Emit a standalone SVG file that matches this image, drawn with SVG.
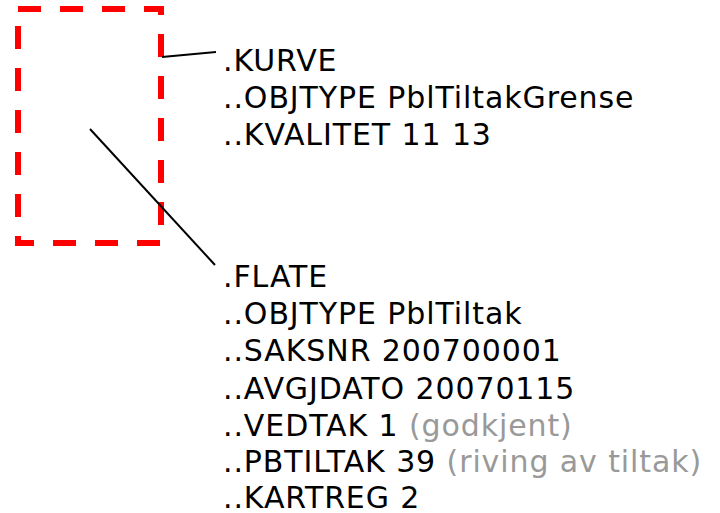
<svg xmlns="http://www.w3.org/2000/svg" width="720" height="513" viewBox="0 0 720 513">
<style>
text{font-family:"DejaVu Sans",Verdana,sans-serif;font-size:30px;letter-spacing:0.9px;fill:#000}
.g{fill:#999}
.c{stroke:#000;stroke-width:2;fill:none}
</style>
<rect width="720" height="513" fill="#fff"/>
<g id="area">
<rect x="18" y="9" width="143" height="234" fill="none" stroke="#ff0000" stroke-width="6" stroke-dasharray="23 19"/>
</g>
<g id="connectors">
<line class="c" x1="162" y1="57" x2="216" y2="52"/>
<line class="c" x1="90" y1="129" x2="215" y2="265"/>
</g>
<g id="kurve">
<text x="223" y="71">.KURVE</text>
<text x="223" y="108">..OBJTYPE PblTiltakGrense</text>
<text x="223" y="145">..KVALITET 11 13</text>
</g>
<g id="flate">
<text x="223" y="287">.FLATE</text>
<text x="223" y="324">..OBJTYPE PblTiltak</text>
<text x="223" y="361">..SAKSNR 200700001</text>
<text x="223" y="399">..AVGJDATO 20070115</text>
<text x="223" y="436">..VEDTAK 1 <tspan class="g">(godkjent)</tspan></text>
<text x="223" y="472">..PBTILTAK 39 <tspan class="g">(riving av tiltak)</tspan></text>
<text x="223" y="508">..KARTREG 2</text>
</g>
</svg>
